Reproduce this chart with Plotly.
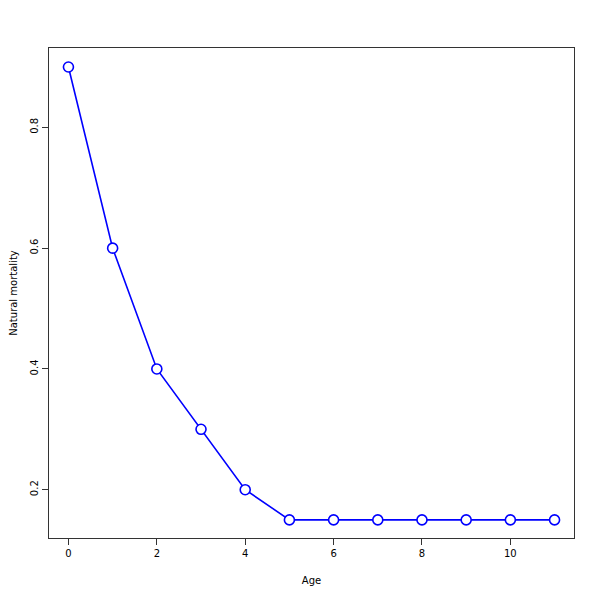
import plotly.graph_objects as go

ages = [0, 1, 2, 3, 4, 5, 6, 7, 8, 9, 10, 11]
mortality = [0.9, 0.6, 0.4, 0.3, 0.2, 0.15, 0.15, 0.15, 0.15, 0.15, 0.15, 0.15]
x_ticks = [0, 2, 4, 6, 8, 10]
y_ticks = [0.2, 0.4, 0.6, 0.8]

fig = go.Figure()
fig.add_trace(go.Scatter(
    x=ages, y=mortality, mode="lines+markers",
    line=dict(color="#0000ff", width=1.6),
    marker=dict(symbol="circle", size=10, color="white",
                line=dict(color="#0000ff", width=1.6)),
    showlegend=False,
))

font = dict(family="DejaVu Sans, Arial, sans-serif", size=10, color="black")
fig.update_layout(
    width=600, height=600,
    margin=dict(l=41, r=34, t=40, b=70, autoexpand=False),
    paper_bgcolor="white", plot_bgcolor="white",
    font=font,
)
fig.update_xaxes(
    range=[-0.44, 11.44], tickvals=x_ticks, ticktext=[str(v) for v in x_ticks],
    ticks="outside", ticklen=6, tickcolor="#333", showgrid=False, zeroline=False,
    showline=True, linecolor="#333", linewidth=1, mirror=True,
    title=dict(text="Age", standoff=18, font=font),
)
fig.update_yaxes(
    range=[0.12, 0.9315], tickvals=y_ticks, ticktext=[str(v) for v in y_ticks],
    ticks="outside", ticklen=6, tickcolor="#333", showgrid=False, zeroline=False,
    showline=True, linecolor="#333", linewidth=1, mirror=True, tickangle=-90,
    title=dict(text="Natural mortality", standoff=20, font=font),
)
fig.write_html("out.html")
